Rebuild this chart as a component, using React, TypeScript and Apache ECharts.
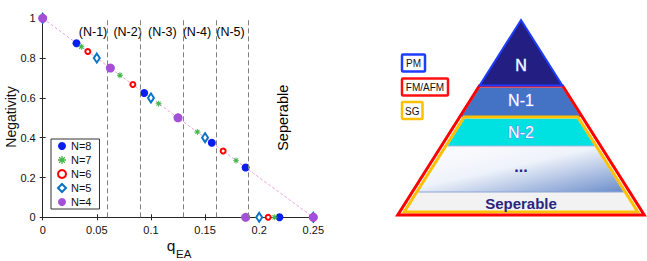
import React, { useEffect, useRef } from 'react';
import * as echarts from 'echarts';

// ---------- data ----------
const seriesNames = ['N=8', 'N=7', 'N=6', 'N=5', 'N=4'];
const qN8 = [0, 0.03125, 0.0625, 0.09375, 0.125, 0.15625, 0.1875, 0.21875, 0.25];
const negN8 = [1, 0.875, 0.75, 0.625, 0.5, 0.375, 0.25, 0, 0];
const qN7 = [0, 0.0357, 0.0714, 0.1071, 0.1429, 0.1786, 0.2143, 0.25];
const negN7 = [1, 0.857, 0.714, 0.571, 0.429, 0.286, 0, 0];
const qN6 = [0, 0.0417, 0.0833, 0.125, 0.1667, 0.2083, 0.25];
const negN6 = [1, 0.833, 0.667, 0.5, 0.333, 0, 0];
const qN5 = [0, 0.05, 0.1, 0.15, 0.2, 0.25];
const negN5 = [1, 0.8, 0.6, 0.4, 0, 0];
const qN4 = [0, 0.0625, 0.125, 0.1875, 0.25];
const negN4 = [1, 0.75, 0.5, 0, 0];
const diagQ = [0, 0.25];
const diagNeg = [1, 0];
const boundaries = [0.0625, 0.09375, 0.125, 0.15625, 0.1875];
const regionLabels = ['(N-1)', '(N-2)', '(N-3)', '(N-4)', '(N-5)'];
const regionLabelQ = [0.0465, 0.0785, 0.1105, 0.1425, 0.1735];
const regionLabelNeg = [0.93, 0.93, 0.93, 0.93, 0.93];
const separableText = 'Seperable';
const separablePos = [0.222, 0.5];
const pyramidLayers = ['N', 'N-1', 'N-2', '...', 'Seperable'];
const pyramidLegend = ['PM', 'FM/AFM', 'SG'];

const FONT = '"Liberation Sans", Arial, Helvetica, sans-serif';
const zip = (a: number[], b: number[]) => a.map((v, i) => [v, b[i]]);

const asterisk =
  'path://M-0.8,-5L0.8,-5L0.8,5L-0.8,5Z M-5,-0.8L5,-0.8L5,0.8L-5,0.8Z ' +
  'M-2.93,-4.07L4.07,2.93L2.93,4.07L-4.07,-2.93Z M-4.07,2.93L2.93,-4.07L4.07,-2.93L-2.93,4.07Z';

export default function App() {
  const ref = useRef<HTMLDivElement>(null);
  useEffect(() => {
    document.body.style.margin = '0';
    const chart = echarts.init(ref.current!, null, { renderer: 'svg' });

    // pyramid geometry
    const cx = 521;
    const apex = 20;
    const k = 0.632;
    const hw = (y: number) => k * (y - apex);
    const trap = (y1: number, y2: number, inset: number) => [
      [cx - hw(y1) + inset, y1],
      [cx + hw(y1) - inset, y1],
      [cx + hw(y2) - inset, y2],
      [cx - hw(y2) + inset, y2],
    ];
    const layerText = (t: string, y: number) => ({
      type: 'text',
      x: cx,
      y,
      z: 20,
      style: {
        text: t,
        font: `16px ${FONT}`,
        fill: '#ffffff',
        stroke: '#6f86ee',
        lineWidth: 1,
        align: 'center',
        verticalAlign: 'middle',
      },
    });
    const legBox = (t: string, x: number, y: number, w: number, h: number, c: string) => [
      {
        type: 'rect',
        shape: { x, y, width: w, height: h, r: 1 },
        style: { fill: '#ffffff', stroke: c, lineWidth: 2.5 },
        z: 10,
      },
      {
        type: 'text',
        x: x + w / 2,
        y: y + h / 2 + 0.5,
        z: 11,
        style: { text: t, font: `10px ${FONT}`, fill: '#111', align: 'center', verticalAlign: 'middle' },
      },
    ];

    const graphics: any[] = [
      // axis titles
      {
        type: 'text',
        x: 11,
        y: 117,
        rotation: Math.PI / 2,
        style: { text: 'Negativity', font: `14px ${FONT}`, fill: '#111', align: 'center', verticalAlign: 'middle' },
      },
      {
        type: 'text',
        x: 171,
        y: 245,
        style: { text: 'q', font: `15.5px ${FONT}`, fill: '#111', align: 'center', verticalAlign: 'middle' },
      },
      {
        type: 'text',
        x: 176,
        y: 254,
        style: { text: 'EA', font: `11.5px ${FONT}`, fill: '#111', align: 'left', verticalAlign: 'middle' },
      },
      // pyramid fills
      { type: 'polygon', z: 5, shape: { points: trap(87.5, 117, 1.5) }, style: { fill: '#4472c4' } },
      { type: 'polygon', z: 5, shape: { points: trap(118.5, 146, 6) }, style: { fill: '#00e1e1' } },
      {
        type: 'polygon',
        z: 5,
        shape: { points: trap(146, 192, 6) },
        style: {
          fill: {
            type: 'linear',
            x: 0,
            y: 0,
            x2: 1,
            y2: 1,
            colorStops: [
              { offset: 0, color: '#ffffff' },
              { offset: 0.45, color: '#eef2fa' },
              { offset: 1, color: '#6b8dca' },
            ],
          },
        },
      },
      { type: 'polygon', z: 5, shape: { points: trap(192, 211, 6) }, style: { fill: '#f2f2f2' } },
      {
        type: 'line',
        z: 6,
        shape: { x1: cx - hw(146) + 6, y1: 146, x2: cx + hw(146) - 6, y2: 146 },
        style: { stroke: '#a9badf', lineWidth: 1 },
      },
      {
        type: 'line',
        z: 6,
        shape: { x1: cx - hw(192) + 6, y1: 192, x2: cx + hw(192) - 6, y2: 192 },
        style: { stroke: '#8ea4d6', lineWidth: 1 },
      },
      // outlines
      {
        type: 'polygon',
        z: 8,
        shape: { points: trap(117, 212, 4.5) },
        style: { fill: 'none', stroke: '#ffc000', lineWidth: 3 },
      },
      {
        type: 'polygon',
        z: 9,
        shape: { points: trap(86, 215, 0) },
        style: { fill: 'none', stroke: '#ff0000', lineWidth: 3, lineJoin: 'miter' },
      },
      {
        type: 'polygon',
        z: 10,
        shape: { points: [[cx, apex], [cx + hw(85.5), 85.5], [cx - hw(85.5), 85.5]] },
        style: { fill: '#221e82', stroke: '#1f3dff', lineWidth: 2 },
      },
      // layer texts
      layerText(pyramidLayers[0], 65),
      layerText(pyramidLayers[1], 100.5),
      layerText(pyramidLayers[2], 132),
      {
        type: 'text',
        x: cx,
        y: 166,
        z: 20,
        style: { text: pyramidLayers[3], font: `bold 16px ${FONT}`, fill: '#24208a', align: 'center', verticalAlign: 'middle' },
      },
      {
        type: 'text',
        x: cx,
        y: 203,
        z: 20,
        style: { text: pyramidLayers[4], font: `bold 15px ${FONT}`, fill: '#29267f', align: 'center', verticalAlign: 'middle' },
      },
      ...legBox(pyramidLegend[0], 402, 54.5, 23, 17, '#1f3dff'),
      ...legBox(pyramidLegend[1], 402, 78.5, 46, 17, '#ff1010'),
      ...legBox(pyramidLegend[2], 402, 102, 20.5, 17, '#ffc000'),
    ];

    const axisCommon = {
      min: 0,
      axisLine: { show: true, lineStyle: { color: '#262626', width: 1 } },
      axisTick: { show: true, inside: true, length: 3, lineStyle: { color: '#262626' } },
      splitLine: { show: false },
    };

    chart.setOption({
      animation: false,
      textStyle: { fontFamily: FONT },
      grid: { left: 42.7, top: 18.3, right: 333.7, bottom: 43.7, containLabel: false },
      xAxis: [
        {
          ...axisCommon,
          type: 'value',
          max: 0.25,
          interval: 0.05,
          position: 'bottom',
          axisLabel: { fontSize: 11, color: '#111', margin: 7, fontFamily: FONT },
        },
        {
          ...axisCommon,
          type: 'value',
          max: 0.25,
          interval: 0.05,
          position: 'top',
          axisLabel: { show: false },
        },
      ],
      yAxis: [
        {
          ...axisCommon,
          type: 'value',
          max: 1,
          interval: 0.2,
          position: 'left',
          axisLabel: { fontSize: 11, color: '#111', margin: 7, fontFamily: FONT },
        },
        {
          ...axisCommon,
          type: 'value',
          max: 1,
          interval: 0.2,
          position: 'right',
          axisLabel: { show: false },
        },
      ],
      legend: {
        data: seriesNames,
        orient: 'vertical',
        left: 51,
        top: 139,
        width: 47,
        padding: [1, 8, 1, 6],
        itemWidth: 8,
        itemHeight: 8,
        itemGap: 2,
        borderColor: '#333',
        borderWidth: 1,
        backgroundColor: '#fff',
        textStyle: { fontSize: 11, lineHeight: 12, color: '#111', fontFamily: FONT },
      },
      series: [
        {
          name: 'diag',
          type: 'line',
          data: zip(diagQ, diagNeg),
          symbol: 'none',
          silent: true,
          z: 1,
          lineStyle: { color: '#eba4dc', width: 1, type: [3, 2] },
          markLine: {
            silent: true,
            symbol: ['none', 'none'],
            label: { show: false },
            lineStyle: { color: '#808080', width: 1, type: [5, 3] },
            data: boundaries.map((b) => ({ xAxis: b })),
          },
        },
        {
          name: seriesNames[0],
          type: 'scatter',
          data: zip(qN8, negN8),
          symbol: 'circle',
          symbolSize: 8,
          itemStyle: { color: '#0a1ef2', opacity: 1 },
          z: 3,
        },
        {
          name: seriesNames[1],
          type: 'scatter',
          data: zip(qN7, negN7),
          symbol: asterisk,
          symbolSize: 6,
          itemStyle: { color: '#45b649', opacity: 1 },
          z: 3,
        },
        {
          name: seriesNames[2],
          type: 'scatter',
          data: zip(qN6, negN6),
          symbol: 'emptyCircle',
          symbolSize: 5,
          itemStyle: { color: '#ff0000', borderWidth: 1.2, borderColor: '#ff0000', opacity: 1 },
          z: 3,
        },
        {
          name: seriesNames[3],
          type: 'scatter',
          data: zip(qN5, negN5),
          symbol: 'emptyDiamond',
          symbolSize: [6, 9],
          itemStyle: { color: '#0a72c4', borderWidth: 1.5, borderColor: '#0a72c4', opacity: 1 },
          z: 3,
        },
        {
          name: seriesNames[4],
          type: 'scatter',
          data: zip(qN4, negN4),
          symbol: 'circle',
          symbolSize: 9,
          itemStyle: { color: '#a44fd8', opacity: 1 },
          z: 3,
        },
        {
          name: 'regions',
          type: 'scatter',
          silent: true,
          symbolSize: 0,
          itemStyle: { opacity: 1 },
          data: regionLabelQ.map((q, i) => [q, regionLabelNeg[i], regionLabels[i]]),
          label: {
            show: true,
            position: 'inside',
            formatter: (p: any) => p.data[2],
            fontSize: 12.5,
            color: '#000',
            fontFamily: FONT,
          },
          z: 4,
        },
        {
          name: 'sep',
          type: 'scatter',
          silent: true,
          symbolSize: 0,
          itemStyle: { opacity: 1 },
          data: [[separablePos[0], separablePos[1], separableText]],
          label: {
            show: true,
            position: 'inside',
            rotate: 90,
            formatter: (p: any) => p.data[2],
            fontSize: 14.5,
            color: '#000',
            fontFamily: FONT,
          },
          z: 4,
        },
      ],
      graphic: graphics,
    });
    return () => chart.dispose();
  }, []);
  return <div ref={ref} style={{ width: 647, height: 261 }} />;
}
